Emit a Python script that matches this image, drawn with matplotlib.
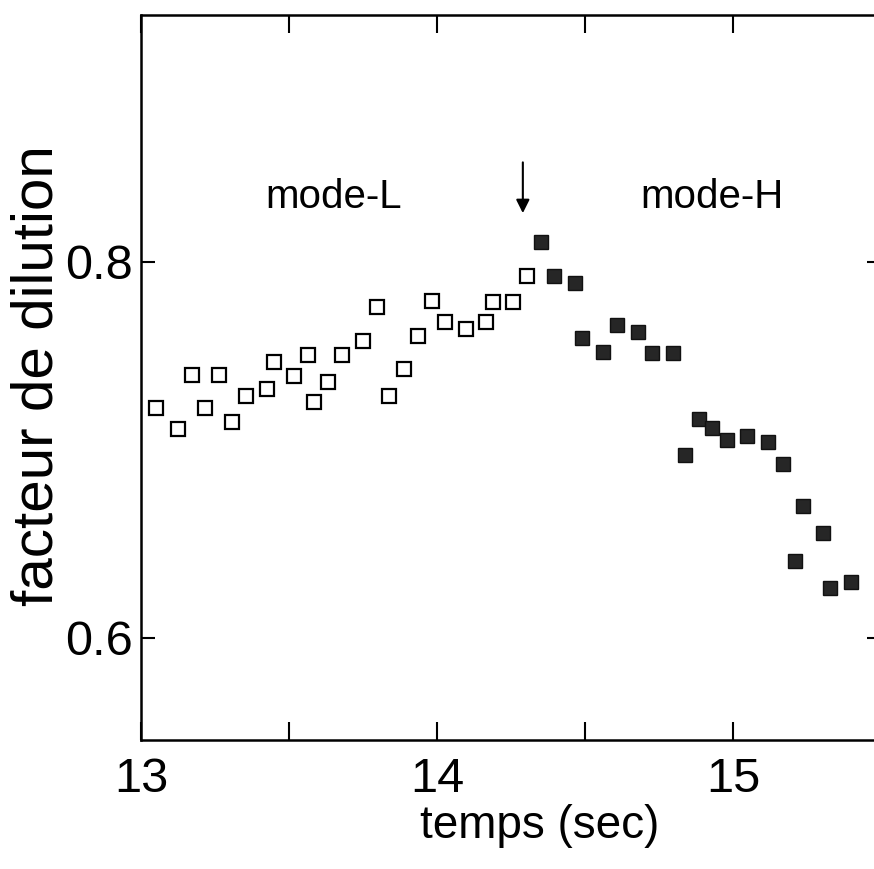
import matplotlib
matplotlib.use("Agg")
import matplotlib.pyplot as plt
from matplotlib.ticker import FixedLocator

plt.rcParams['font.family'] = ['Liberation Sans', 'DejaVu Sans']

# mode-L (open squares)
time_L = [13.051, 13.125, 13.172, 13.216, 13.264, 13.307, 13.355, 13.426, 13.449,
          13.517, 13.564, 13.584, 13.632, 13.679, 13.750, 13.797, 13.838, 13.889,
          13.936, 13.983, 14.027, 14.098, 14.166, 14.189, 14.257, 14.304]
dil_L = [0.7223, 0.7112, 0.7399, 0.7223, 0.7399, 0.7149, 0.7287, 0.7324, 0.7468,
         0.7394, 0.7505, 0.7255, 0.7362, 0.7505, 0.7580, 0.7761, 0.7287, 0.7431,
         0.7606, 0.7793, 0.7681, 0.7644, 0.7681, 0.7787, 0.7787, 0.7926]

# mode-H (filled squares)
time_H = [14.351, 14.395, 14.466, 14.490, 14.561, 14.608, 14.679, 14.726, 14.797,
          14.838, 14.885, 14.929, 14.980, 15.047, 15.118, 15.169, 15.209, 15.236,
          15.304, 15.328, 15.399]
dil_H = [0.8106, 0.7926, 0.7888, 0.7596, 0.7521, 0.7665, 0.7628, 0.7516, 0.7516,
         0.6973, 0.7165, 0.7117, 0.7053, 0.7074, 0.7043, 0.6926, 0.6410, 0.6702,
         0.6559, 0.6266, 0.6298]

x_major = [13, 14, 15]
x_minor = [13.5, 14.5]
y_major = [0.6, 0.8]
arrow_x = 14.29

W, H = 874, 869
fig = plt.figure(figsize=(W / 100, H / 100), dpi=100)
ax = fig.add_axes([141 / W, 1 - 740 / H, 740 / W, 725 / H])

ax.plot(time_L, dil_L, linestyle='none', marker='s', markersize=10,
        markerfacecolor='white', markeredgecolor='black', markeredgewidth=1.6)
ax.plot(time_H, dil_H, linestyle='none', marker='s', markersize=10,
        markerfacecolor='#262626', markeredgecolor='#111111', markeredgewidth=1.0)

ax.set_xlim(13.0, 15.5)
ax.set_ylim(0.5457, 0.9314)

ax.xaxis.set_major_locator(FixedLocator(x_major))
ax.xaxis.set_minor_locator(FixedLocator(x_minor))
ax.yaxis.set_major_locator(FixedLocator(y_major))
ax.set_xticklabels([str(v) for v in x_major])
ax.set_yticklabels([f"{v:.1f}" for v in y_major])

ax.tick_params(axis='both', which='both', direction='in', top=True, right=True,
               width=1.5, length=13, labelsize=35, colors='black')
ax.tick_params(axis='x', which='major', pad=12)
ax.tick_params(axis='y', which='major', pad=6, length=10)
ax.spines['right'].set_visible(False)
for s in ['left', 'bottom', 'top']:
    ax.spines[s].set_linewidth(1.8)

fig.text(540 / W, 1 - 826 / H, 'temps (sec)', fontsize=33, ha='center', va='center')
fig.text(38 / W, 1 - 376 / H, 'facteur de dilution', fontsize=42, rotation=90,
         ha='center', va='center')

ax.text(13.652, 0.8346, 'mode-L', fontsize=29, ha='center', va='center')
ax.text(14.93, 0.8346, 'mode-H', fontsize=29, ha='center', va='center')

ax.annotate('', xy=(arrow_x, 0.826), xytext=(arrow_x, 0.853),
            arrowprops=dict(arrowstyle='-|>', color='black', lw=1.5,
                            mutation_scale=20, shrinkA=0, shrinkB=0))

fig.savefig('out.png', dpi=100)
